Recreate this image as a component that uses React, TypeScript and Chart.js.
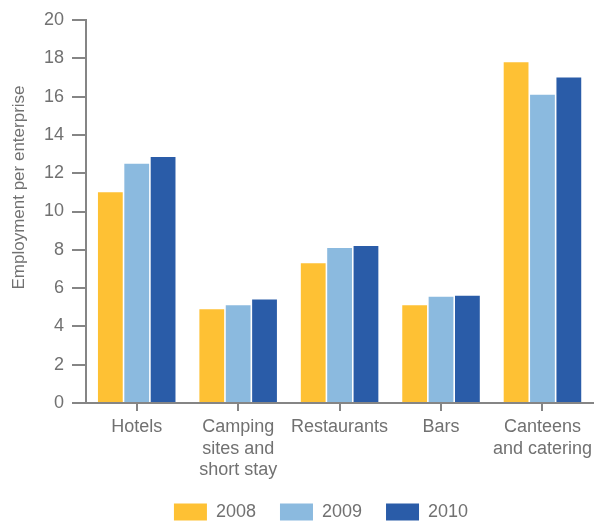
import React, { useEffect, useRef } from "react";
import { Chart, registerables } from "chart.js";

Chart.register(...registerables);

const categories: (string | string[])[] = [
  "Hotels",
  ["Camping", "sites and", "short stay"],
  "Restaurants",
  "Bars",
  ["Canteens", "and catering"],
];
const seriesNames = ["2008", "2009", "2010"];
const values2008 = [11.0, 4.9, 7.3, 5.1, 17.8];
const values2009 = [12.5, 5.1, 8.1, 5.55, 16.1];
const values2010 = [12.85, 5.4, 8.2, 5.6, 17.0];
const seriesColors = ["#FEC134", "#8BBADF", "#2A5CA8"];
const yMin = 0;
const yMax = 20;
const yStep = 2;
const yTitle = "Employment per enterprise";

const textColor = "#717171";
const axisColor = "#858585";
const fontFamily = "'Liberation Sans', Arial, sans-serif";

const yTitlePlugin = {
  id: "yTitleCustom",
  afterDraw(chart: any) {
    const { ctx, chartArea } = chart;
    ctx.save();
    ctx.translate(19, (chartArea.top + chartArea.bottom) / 2 - 24);
    ctx.rotate(-Math.PI / 2);
    ctx.font = `17px ${fontFamily}`;
    ctx.fillStyle = textColor;
    ctx.textAlign = "center";
    ctx.textBaseline = "middle";
    ctx.fillText(yTitle, 0, 0);
    ctx.restore();
  },
};

export default function App() {
  const canvasRef = useRef<HTMLCanvasElement | null>(null);

  useEffect(() => {
    if (!canvasRef.current) return;
    const seriesValues = [values2008, values2009, values2010];
    const chart = new Chart(canvasRef.current, {
      type: "bar",
      data: {
        labels: categories as any,
        datasets: seriesNames.map((name, i) => ({
          label: name,
          data: seriesValues[i],
          backgroundColor: seriesColors[i],
          borderWidth: 0,
          categoryPercentage: 0.78,
          barPercentage: 0.94,
        })),
      },
      options: {
        animation: false,
        responsive: true,
        maintainAspectRatio: false,
        layout: { padding: { left: 44, top: 20, right: 0, bottom: -10 } },
        plugins: {
          legend: {
            position: "bottom",
            labels: {
              boxWidth: 33,
              boxHeight: 17,
              padding: 24,
              color: textColor,
              font: { family: fontFamily, size: 18 },
            },
          },
          tooltip: { enabled: false },
        },
        scales: {
          x: {
            offset: true,
            afterFit: (scale: any) => {
              scale.height = 76;
            },
            grid: {
              display: true,
              offset: false,
              drawOnChartArea: false,
              drawTicks: true,
              tickLength: 8,
              color: axisColor,
              lineWidth: 2,
            },
            border: { display: true, color: axisColor, width: 2 },
            ticks: {
              color: textColor,
              padding: 6,
              maxRotation: 0,
              autoSkip: false,
              font: { family: fontFamily, size: 18, lineHeight: 1.17 },
            },
          },
          y: {
            min: yMin,
            max: yMax,
            afterFit: (scale: any) => {
              scale.width = 42;
            },
            grid: {
              display: true,
              drawOnChartArea: false,
              drawTicks: true,
              tickLength: 14,
              color: axisColor,
              lineWidth: 2,
            },
            border: { display: true, color: axisColor, width: 2 },
            ticks: {
              stepSize: yStep,
              color: textColor,
              padding: 8,
              font: { family: fontFamily, size: 18 },
            },
          },
        },
      },
      plugins: [yTitlePlugin],
    });
    return () => chart.destroy();
  }, []);

  return (
    <div style={{ position: "absolute", left: 0, top: 0, width: 598, height: 521 }}>
      <canvas ref={canvasRef} />
    </div>
  );
}
